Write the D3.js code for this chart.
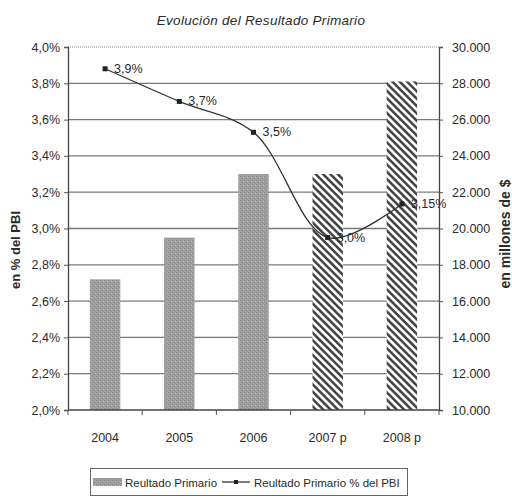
<!DOCTYPE html>
<html>
<head>
<meta charset="utf-8">
<script src="https://cdn.jsdelivr.net/npm/d3@7"></script>
<style>
  html, body { margin: 0; padding: 0; background: #fff; }
  svg { display: block; }
  text { font-family: "Liberation Sans", Arial, sans-serif; fill: #2a2a2a; }
</style>
</head>
<body>
<svg id="chart" width="512" height="496"></svg>
<script>
// ---- data ----
const categories = ["2004", "2005", "2006", "2007 p", "2008 p"];
const resultadoMillones = [17200, 19500, 23000, 23000, 28100];
const resultadoPctPBI = [3.88, 3.70, 3.53, 2.95, 3.135];
const pctLabels = ["3,9%", "3,7%", "3,5%", "3,0%", "3,15%"];
const projected = [false, false, false, true, true];
const leftTicks = [2.0, 2.2, 2.4, 2.6, 2.8, 3.0, 3.2, 3.4, 3.6, 3.8, 4.0];
const rightTicks = [10000, 12000, 14000, 16000, 18000, 20000, 22000, 24000, 26000, 28000, 30000];
const titleText = "Evolución del Resultado Primario";
const leftTitle = "en % del PBI";
const rightTitle = "en millones de $";
const legendBar = "Reultado Primario";
const legendLine = "Reultado Primario % del PBI";

// ---- setup ----
const locale = d3.formatLocale({ decimal: ",", thousands: ".", grouping: [3], currency: ["$", ""] });
const fmtPct = v => locale.format(".1f")(v) + "%";

const svg = d3.select("#chart");
const L = 68, R = 439, T = 47, B = 410;

const x = d3.scaleBand().domain(categories).range([L, R]).paddingInner(0.59).paddingOuter(0.295);
const yL = d3.scaleLinear().domain([2, 4]).range([B, T]);
const yR = d3.scaleLinear().domain([10000, 30000]).range([B, T]);

const defs = svg.append("defs");
const hatch = defs.append("pattern")
  .attr("id", "hatch").attr("patternUnits", "userSpaceOnUse")
  .attr("width", 5.2).attr("height", 5.2)
  .attr("patternTransform", "rotate(-45)");
hatch.append("rect").attr("width", 5.2).attr("height", 5.2).attr("fill", "#fff");
hatch.append("line").attr("x1", 1.3).attr("y1", 0).attr("x2", 1.3).attr("y2", 5.2)
  .attr("stroke", "#3a3a3a").attr("stroke-width", 2.4);

const grain = defs.append("pattern")
  .attr("id", "grain").attr("patternUnits", "userSpaceOnUse")
  .attr("width", 4).attr("height", 4);
grain.append("rect").attr("width", 4).attr("height", 4).attr("fill", "#a0a0a0");
grain.append("rect").attr("x", 0).attr("y", 0).attr("width", 1).attr("height", 1).attr("fill", "#858585");
grain.append("rect").attr("x", 2).attr("y", 2).attr("width", 1).attr("height", 1).attr("fill", "#858585");
grain.append("rect").attr("x", 3).attr("y", 1).attr("width", 1).attr("height", 1).attr("fill", "#b4b4b4");

// title
svg.append("text").attr("x", 261).attr("y", 25).attr("text-anchor", "middle")
  .style("font-size", "13.5px").style("font-style", "italic").style("letter-spacing", "0.3px")
  .text(titleText);

// plot frame top (dotted)
svg.append("line").attr("x1", L).attr("x2", R).attr("y1", T).attr("y2", T)
  .attr("stroke", "#888").attr("stroke-width", 1).attr("stroke-dasharray", "1,1");

// gridlines
svg.append("g").selectAll("line").data(leftTicks.filter(t => t > 2 && t < 4)).join("line")
  .attr("x1", L).attr("x2", R).attr("y1", d => yL(d)).attr("y2", d => yL(d))
  .attr("stroke", "#7a7a7a").attr("stroke-width", 1.3);

// bars
svg.append("g").selectAll("rect").data(categories).join("rect")
  .attr("x", d => x(d)).attr("width", x.bandwidth())
  .attr("y", (d, i) => yR(resultadoMillones[i]))
  .attr("height", (d, i) => B - yR(resultadoMillones[i]))
  .attr("fill", (d, i) => projected[i] ? "url(#hatch)" : "url(#grain)");

// left axis
const axL = svg.append("g").attr("transform", `translate(${L},0)`)
  .call(d3.axisLeft(yL).tickValues(leftTicks).tickFormat(fmtPct).tickSize(4).tickPadding(4));
axL.select(".domain").attr("stroke", "#444").attr("stroke-width", 1.3);
axL.selectAll(".tick line").attr("stroke", "#555");
axL.selectAll("text").style("font-size", "12.5px").attr("fill", "#2a2a2a")
  .style("font-family", "'Liberation Sans', Arial, sans-serif");

// right axis
const axR = svg.append("g").attr("transform", `translate(${R},0)`)
  .call(d3.axisRight(yR).tickValues(rightTicks).tickFormat(d => locale.format(",")(d)).tickSize(4).tickPadding(9));
axR.select(".domain").attr("stroke", "#444").attr("stroke-width", 1.3);
axR.selectAll(".tick line").attr("stroke", "#555");
axR.selectAll("text").style("font-size", "12.5px").attr("fill", "#2a2a2a")
  .style("font-family", "'Liberation Sans', Arial, sans-serif");

// bottom axis
const step = x.step();
const bx = svg.append("g");
bx.append("line").attr("x1", L).attr("x2", R).attr("y1", B).attr("y2", B)
  .attr("stroke", "#444").attr("stroke-width", 1.3);
bx.selectAll("line.tk").data(categories.concat(["__end"])).join("line").attr("class", "tk")
  .attr("x1", (d, i) => L + i * step).attr("x2", (d, i) => L + i * step)
  .attr("y1", B).attr("y2", B + 5).attr("stroke", "#555");
bx.selectAll("text").data(categories).join("text")
  .attr("x", d => x(d) + x.bandwidth() / 2).attr("y", 442)
  .attr("text-anchor", "middle").style("font-size", "12.5px").text(d => d);

// line
const cx = d => x(d) + x.bandwidth() / 2;
const lineGen = d3.line()
  .x((d, i) => cx(categories[i])).y(d => yL(d))
  .curve(d3.curveCatmullRom.alpha(0.5));
svg.append("path").datum(resultadoPctPBI).attr("d", lineGen)
  .attr("fill", "none").attr("stroke", "#333").attr("stroke-width", 1.3);
svg.append("g").selectAll("rect").data(resultadoPctPBI).join("rect")
  .attr("x", (d, i) => cx(categories[i]) - 2.5).attr("y", d => yL(d) - 2.5)
  .attr("width", 5).attr("height", 5).attr("fill", "#222");
svg.append("g").selectAll("text").data(resultadoPctPBI).join("text")
  .attr("x", (d, i) => cx(categories[i]) + 9).attr("y", d => yL(d) + 4)
  .style("font-size", "12.5px").text((d, i) => pctLabels[i]);

// axis titles
svg.append("text").attr("transform", "translate(15,250) rotate(-90)")
  .attr("text-anchor", "middle").attr("dominant-baseline", "central")
  .style("font-size", "13px").style("font-weight", "bold").text(leftTitle);
svg.append("text").attr("transform", "translate(505,234) rotate(-90)")
  .attr("text-anchor", "middle").attr("dominant-baseline", "central")
  .style("font-size", "14px").style("font-weight", "bold").text(rightTitle);

// legend
const lg = svg.append("g");
lg.append("rect").attr("x", 90.5).attr("y", 468.5).attr("width", 317).attr("height", 27)
  .attr("fill", "#fff").attr("stroke", "#666").attr("stroke-width", 1);
lg.append("rect").attr("x", 93).attr("y", 478).attr("width", 29).attr("height", 8).attr("fill", "url(#grain)");
lg.append("text").attr("x", 125).attr("y", 486.5).style("font-size", "11.5px").text(legendBar);
lg.append("line").attr("x1", 222).attr("x2", 250).attr("y1", 482).attr("y2", 482)
  .attr("stroke", "#333").attr("stroke-width", 1.3);
lg.append("rect").attr("x", 234).attr("y", 480).attr("width", 4).attr("height", 4).attr("fill", "#222");
lg.append("text").attr("x", 254).attr("y", 486.5).style("font-size", "11.5px").text(legendLine);
</script>
</body>
</html>
